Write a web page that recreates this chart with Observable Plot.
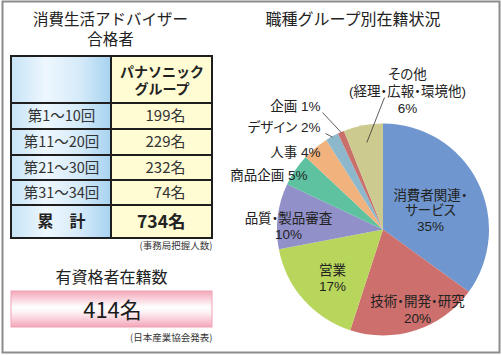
<!DOCTYPE html>
<html><head><meta charset="utf-8">
<script src="https://cdn.jsdelivr.net/npm/d3@7"></script>
<script src="https://cdn.jsdelivr.net/npm/@observablehq/plot@0.6"></script>
<style>
html,body{margin:0;padding:0;background:#fff;}
#chart{width:502px;height:355px;}
</style></head><body><div id="chart"></div>
<script>
// ---------- data ----------
const tableTitle = "消費生活アドバイザー\n合格者";
const tableHeader = "パナソニック\nグループ";
const rounds = ["第1～10回", "第11～20回", "第21～30回", "第31～34回"];
const passers = [199, 229, 232, 74];
const totalLabel = "累　計";
const tableNote = "(事務局把握人数)";
const activeTitle = "有資格者在籍数";
const activeCount = 414;
const activeNote = "(日本産業協会発表)";

const pieTitle = "職種グループ別在籍状況";
const jobGroups = ["消費者関連・\nサービス", "技術・開発・研究", "営業", "品質・製品審査", "商品企画", "人事", "デザイン", "企画", "その他\n(経理・広報・環境他)"];
const jobShares = [35, 20, 17, 10, 5, 4, 2, 1, 6];
const jobColors = ["#6f96ce", "#cd6f6c", "#b8d65c", "#9190c8", "#5ec2a1", "#f2b27e", "#8db8cc", "#c9706b", "#cdca90"];

// ---------- layout (pixels) ----------
const W = 502, H = 355;
const FONT = "'Noto Sans CJK JP', 'Noto Sans', sans-serif";
const LABEL_FONT = "'Liberation Sans', 'Noto Sans CJK JP', sans-serif";
const tbl = {x0: 11, xm: 111, x1: 212, rows: [56, 103, 129, 155, 180, 205, 238]};
const pie = {cx: 383, cy: 229.5, r: 106};
// label placement per slice: inside (middle-anchored block) or outside (end-anchored, with leader)
const pieLabelPos = [
  {x: 430, y: 210, anchor: "middle", lh: 1.15},
  {x: 417, y: 308.5, anchor: "middle", lh: 1.25},
  {x: 332, y: 277.5, anchor: "middle", lh: 1.15},
  {x: 288, y: 225, anchor: "middle", lh: 1.2},
  {x: 307, y: 175, anchor: "end", inline: true},
  {x: 320, y: 152, anchor: "end", inline: true},
  {x: 320, y: 127, anchor: "end", inline: true, lead: [325, 133, 1.0]},
  {x: 320, y: 106, anchor: "end", inline: true, lead: [322, 112, 1.0]},
  {x: 407, y: 90, anchor: "middle", lh: 1.28, lead: [384, 97, 0.84]}
];

// ---------- derived ----------
const total = d3.sum(passers);
const arcs = d3.pie().sort(null).value(d => d)(jobShares);
const polar = (a, f) => [pie.cx + pie.r * f * Math.sin(a), pie.cy - pie.r * f * Math.cos(a)];

const pieData = jobGroups.map((g, i) => {
  const a = arcs[i];
  const mid = (a.startAngle + a.endAngle) / 2;
  const L = pieLabelPos[i];
  const text = L.inline ? `${g} ${jobShares[i]}%` : `${g}\n${jobShares[i]}%`;
  const d = {name: g, share: jobShares[i], color: jobColors[i], start: a.startAngle, end: a.endAngle, mid, text, ...L};
  if (L.lead) { const [px, py] = polar(mid, L.lead[2]); d.lx1 = L.lead[0]; d.ly1 = L.lead[1]; d.lx2 = px; d.ly2 = py; }
  return d;
});

const rowEdges = tbl.rows;
const cellData = [];
for (let i = 0; i < 6; i++) {
  cellData.push({x1: tbl.x0, x2: tbl.xm, y1: rowEdges[i], y2: rowEdges[i + 1], fill: "url(#blueCell)"});
  cellData.push({x1: tbl.xm, x2: tbl.x1, y1: rowEdges[i], y2: rowEdges[i + 1], fill: "#fffbd3"});
}
const rowMid = i => (rowEdges[i] + rowEdges[i + 1]) / 2;
const roundRows = rounds.map((r, i) => ({label: r, value: `${passers[i]}名`, y: rowMid(i + 1)}));

// gradients
const defsMark = () => {
  const g = d3.create("svg:g");
  const defs = g.append("defs");
  const b = defs.append("linearGradient").attr("id", "blueCell").attr("x1", 0).attr("x2", 1).attr("y1", 0).attr("y2", 0);
  [["0%", "#c6e3f6"], ["35%", "#eef7fd"], ["70%", "#d4eaf9"], ["100%", "#a6d2f0"]].forEach(([o, c]) => b.append("stop").attr("offset", o).attr("stop-color", c));
  const p = defs.append("linearGradient").attr("id", "pinkBox").attr("x1", 0).attr("x2", 0).attr("y1", 0).attr("y2", 1);
  [["0%", "#f3a6b9"], ["45%", "#ffffff"], ["60%", "#fdf1f4"], ["100%", "#f3a6b9"]].forEach(([o, c]) => p.append("stop").attr("offset", o).attr("stop-color", c));
  return g.node();
};

// pie slices drawn through the plot's x/y scales
const pieMark = (index, scales) => {
  const X = scales.x, Y = scales.y;
  const cx = X(pie.cx), cy = Y(pie.cy), r = X(pie.cx + pie.r) - cx;
  const arc = d3.arc().innerRadius(0).outerRadius(r);
  const g = d3.create("svg:g").attr("transform", `translate(${cx},${cy})`);
  g.selectAll("path").data(pieData).join("path")
    .attr("d", d => arc({startAngle: d.start, endAngle: d.end}))
    .attr("fill", d => d.color);
  return g.node();
};

const txt = "#222";
const chart = Plot.plot({
  width: W, height: H,
  margin: 0,
  x: {type: "linear", domain: [0, W], range: [0, W], axis: null},
  y: {type: "linear", domain: [0, H], range: [0, H], axis: null},
  style: {fontFamily: FONT, background: "#fff", overflow: "visible"},
  marks: [
    defsMark,
    Plot.frame({stroke: "#8c8c8c", strokeWidth: 2, insetLeft: 2, insetTop: 1, insetRight: 3, insetBottom: 3}),
    // left panel
    Plot.text([tableTitle], {x: () => 110, y: () => 28, text: d => d, fontSize: 15.5, lineHeight: 1.28, fill: txt}),
    Plot.rect(cellData, {x1: "x1", x2: "x2", y1: "y1", y2: "y2", fill: "fill", stroke: "#1e1e1e", strokeWidth: 2}),
    Plot.text([tableHeader], {x: () => (tbl.xm + tbl.x1) / 2, y: () => rowMid(0), text: d => d, fontSize: 14, fontWeight: "bold", lineHeight: 1.2, fontFamily: LABEL_FONT, fill: txt}),
    Plot.text(roundRows, {x: () => (tbl.x0 + tbl.xm) / 2, y: "y", text: "label", fontSize: 14.5, fill: "#333"}),
    Plot.text(roundRows, {x: () => 185, y: "y", text: "value", textAnchor: "end", fontSize: 15, fill: "#333"}),
    Plot.text([totalLabel], {x: () => (tbl.x0 + tbl.xm) / 2, y: () => rowMid(5), text: d => d, fontSize: 16, fontWeight: "bold", fill: txt}),
    Plot.text([`${total}名`], {x: () => 185, y: () => rowMid(5), text: d => d, textAnchor: "end", fontSize: 17.5, fontWeight: "bold", fill: txt}),
    Plot.text([tableNote], {x: () => tbl.x1, y: () => 245, text: d => d, textAnchor: "end", fontSize: 9.5, fill: "#333"}),
    Plot.text([activeTitle], {x: () => 111, y: () => 277, text: d => d, fontSize: 16, fill: txt}),
    Plot.rect([activeCount], {x1: () => tbl.x0, x2: () => tbl.x1, y1: () => 291, y2: () => 327, fill: "url(#pinkBox)", stroke: "#efa3b4", strokeWidth: 1}),
    Plot.text([`${activeCount}名`], {x: () => 112, y: () => 310, text: d => d, fontSize: 22, fill: "#1a1a1a"}),
    Plot.text([activeNote], {x: () => tbl.x1, y: () => 337, text: d => d, textAnchor: "end", fontSize: 9.5, fill: "#333"}),
    // right panel
    Plot.text([pieTitle], {x: () => 265, y: () => 19, text: d => d, textAnchor: "start", fontSize: 16, fill: txt}),
    pieMark,
    Plot.link(pieData.filter(d => d.lead), {x1: "lx1", y1: "ly1", x2: "lx2", y2: "ly2", stroke: "#333", strokeWidth: 0.8}),
    ...pieData.map(d => Plot.text([d], {x: "x", y: "y", text: "text", textAnchor: d.anchor, lineHeight: d.lh || 1.1, fontSize: 13.5, fontFamily: LABEL_FONT, fill: txt}))
  ]
});
// proportional CJK punctuation for the pie labels (narrow ・ as in the reference)
d3.select(chart).selectAll("text").filter(function() { return this.textContent.includes("%"); })
  .style("font-feature-settings", '"palt"');
document.getElementById("chart").appendChild(chart);
</script></body></html>
